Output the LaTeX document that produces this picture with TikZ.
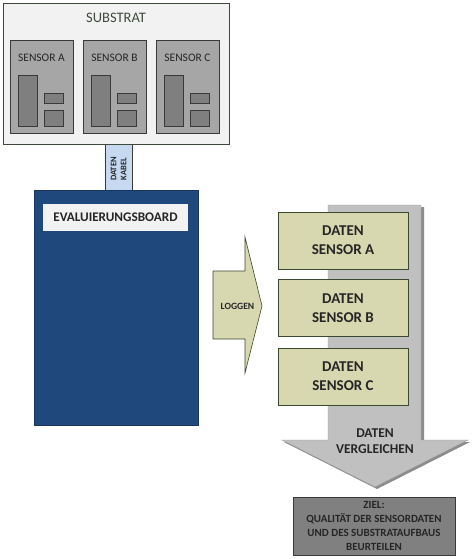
\documentclass[tikz,border=0pt]{standalone}
\usepackage{fontspec}
\setmainfont{Carlito}
\definecolor{subfill}{HTML}{F2F2F2}
\definecolor{subline}{HTML}{3F4A3C}
\definecolor{sensfill}{HTML}{A6A6A6}
\definecolor{innfill}{HTML}{7F7F7F}
\definecolor{darkline}{HTML}{3A3A3A}
\definecolor{cablefill}{HTML}{C6D9F1}
\definecolor{boardfill}{HTML}{1F497D}
\definecolor{boardline}{HTML}{17375E}
\definecolor{khaki}{HTML}{D7D8B0}
\definecolor{khakiline}{HTML}{3B4A2F}
\definecolor{arrowgray}{HTML}{C0C0C0}
\definecolor{arrowedge}{HTML}{8C8C8C}
\definecolor{zielfill}{HTML}{808080}
\begin{document}
\begin{tikzpicture}[x=1pt,y=-1pt,
  box/.style={draw, inner sep=0pt, line width=0.8pt},
  sensorbox/.style={box, fill=sensfill, draw=darkline, minimum width=63pt, minimum height=93pt},
  inner/.style={box, fill=innfill, draw=darkline},
  databox/.style={box, fill=khaki, draw=khakiline, minimum width=130pt, minimum height=57pt, align=center, font=\fontsize{15}{19}\selectfont\bfseries, text=black!85},
  lbl/.style={inner sep=0pt, text=black!85}
]
\useasboundingbox (0,0) rectangle (473,559);
\fill[white] (0,0) rectangle (473,559);

% data cable
\node[box, fill=cablefill, draw=darkline, minimum width=27pt, minimum height=46pt] (cable) at (118.5,167) {};
\node[lbl, rotate=90, align=center, font=\fontsize{8.5}{10}\selectfont\bfseries] (cabletxt) at (118.5,169) {DATEN\\KABEL};

% substrate
\node[box, fill=subfill, draw=subline, minimum width=226pt, minimum height=141pt] (sub) at (116,73.5) {};
\node[lbl, text=subline, font=\fontsize{14.5}{16}\selectfont] (subtxt) at (116,18) {SUBSTRAT};

% sensors
\foreach \nm/\x/\lab in {sa/10/A, sb/83/B, sc/156/C}{
  \node[sensorbox] (\nm) at (\x+31.5,86.5) {};
  \node[lbl, font=\fontsize{11.5}{13}\selectfont] (\nm lab) at (\x+31.5,57.5) {SENSOR \lab};
  \node[inner, minimum width=19pt, minimum height=51pt] (\nm t) at (\x+17.5,100.5) {};
  \node[inner, minimum width=19pt, minimum height=10pt] (\nm s) at (\x+43.5,98) {};
  \node[inner, minimum width=19pt, minimum height=16pt] (\nm b) at (\x+43.5,118) {};
}

% board
\node[box, fill=boardfill, draw=boardline, minimum width=164pt, minimum height=235pt] (board) at (116,307.5) {};
\node[inner sep=0pt, fill=subfill, minimum width=145pt, minimum height=27pt, font=\fontsize{13.2}{15}\selectfont\bfseries, text=black!85] (boardlab) at (115.5,217.5) {EVALUIERUNGSBOARD};

% big gray arrow with shadow
\fill[arrowedge] (330,207) -- (424,207) -- (424,442) -- (470,442) -- (377,489) -- (284,442) -- (330,442) -- cycle;
\draw[fill=arrowgray, draw=arrowgray!80!black, line width=0.4pt] (328,205) -- (421,205) -- (421,440) -- (468,440) -- (375,487) -- (282,440) -- (328,440) -- cycle;
\coordinate (arrowtip) at (375,487);
\node[lbl, align=center, font=\fontsize{13.5}{16}\selectfont\bfseries] (vgl) at (375,441) {DATEN\\VERGLEICHEN};

% data boxes
\node[databox] (da) at (343,240.5) {DATEN\\SENSOR A};
\node[databox] (db) at (343,308) {DATEN\\SENSOR B};
\node[databox] (dc) at (343,376.5) {DATEN\\SENSOR C};

% loggen arrow
\draw[fill=khaki, draw=khakiline, line width=0.6pt] (213,271) -- (245,271) -- (245,237) -- (262,306) -- (245,373) -- (245,339) -- (213,339) -- cycle;
\node[lbl, font=\fontsize{9.6}{11}\selectfont\bfseries] (log) at (237.5,306) {LOGGEN};

% goal box
\node[box, fill=zielfill, draw=darkline, minimum width=162pt, minimum height=58pt, align=center, font=\fontsize{11}{13.7}\selectfont\bfseries, text=black!85] (ziel) at (374,526) {ZIEL:\\QUALITÄT DER SENSORDATEN\\UND DES SUBSTRATAUFBAUS\\BEURTEILEN};
\end{tikzpicture}
\end{document}
